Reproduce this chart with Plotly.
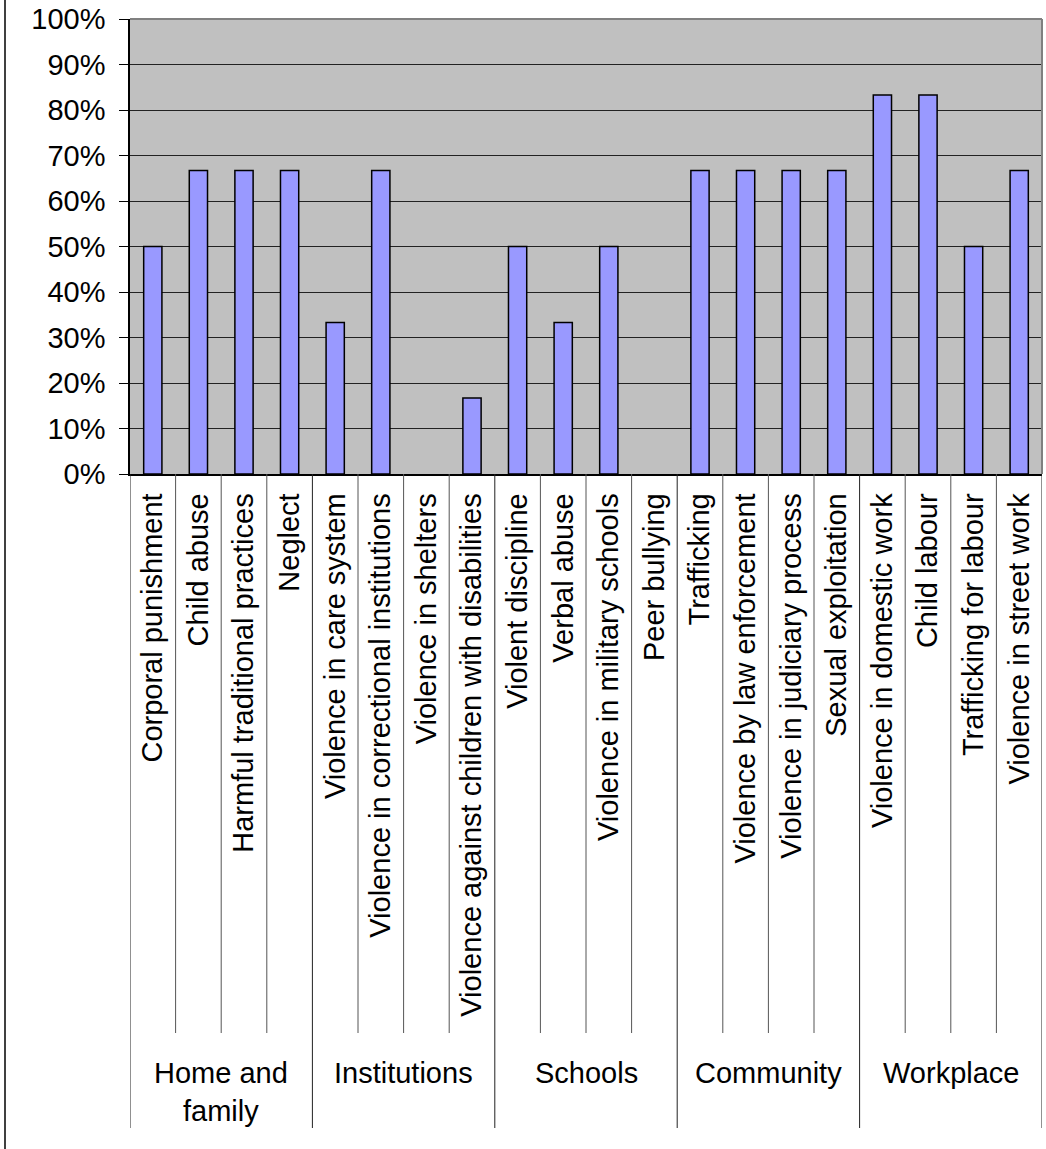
import plotly.graph_objects as go

# ---- data ----
groups = ["Home and<br>family", "Institutions", "Schools", "Community", "Workplace"]
categories = [
    "Corporal punishment", "Child abuse", "Harmful traditional practices", "Neglect",
    "Violence in care system", "Violence in correctional institutions", "Violence in shelters",
    "Violence against children with disabilities",
    "Violent discipline", "Verbal abuse", "Violence in military schools", "Peer bullying",
    "Trafficking", "Violence by law enforcement", "Violence in judiciary process", "Sexual exploitation",
    "Violence in domestic work", "Child labour", "Trafficking for labour", "Violence in street work",
]
values = [
    0.50, 0.667, 0.667, 0.667,
    0.333, 0.667, 0.0, 0.167,
    0.50, 0.333, 0.50, 0.0,
    0.667, 0.667, 0.667, 0.667,
    0.833, 0.833, 0.50, 0.667,
]
per_group = 4
y_ticks = [i / 10 for i in range(11)]

# ---- layout geometry (pixels) ----
W, H = 1046, 1149
L, R, T = 130, 4, 19
PLOT_BOTTOM = 474
B = H - PLOT_BOTTOM
PH = PLOT_BOTTOM - T
PW = W - L - R
FONT = "Liberation Sans, Arial, sans-serif"
FS = 29


def py(ypx):
    """pixel y -> paper y"""
    return (PLOT_BOTTOM - ypx) / PH


def px(xpx):
    return (xpx - L) / PW


fig = go.Figure()
fig.add_trace(go.Bar(
    x=list(range(len(categories))),
    y=values,
    marker=dict(color="#9999FF",
                line=dict(color="black", width=[1.5 if v > 0 else 0 for v in values])),
    hoverinfo="skip",
))

shapes = []
n = len(categories)
# category separators (tick marks of the category axis)
for i in range(n + 1):
    is_group = (i % per_group == 0)
    shapes.append(dict(
        type="line", xref="x", yref="paper",
        x0=i - 0.5, x1=i - 0.5, y0=0, y1=py(1128 if is_group else 1033),
        line=dict(color="#222" if is_group else "#555", width=1),
    ))
# top and right border of plot area (gray)
shapes.append(dict(type="line", xref="paper", yref="paper", x0=0, x1=1, y0=1, y1=1,
                   line=dict(color="#808080", width=2)))
shapes.append(dict(type="line", xref="paper", yref="paper", x0=1, x1=1, y0=0, y1=1,
                   line=dict(color="#808080", width=2)))
# chart area left border
shapes.append(dict(type="line", xref="paper", yref="paper", x0=px(5), x1=px(5),
                   y0=py(-5), y1=py(H + 5), line=dict(color="black", width=1.5)))

annotations = []
for g, name in enumerate(groups):
    annotations.append(dict(
        x=g * per_group + (per_group - 1) / 2, xref="x",
        y=py(1055), yref="paper", yanchor="top", xanchor="center",
        text=name, showarrow=False, align="center",
        font=dict(family=FONT, size=FS, color="black"),
    ))

fig.update_layout(
    width=W, height=H,
    margin=dict(l=L, r=R, t=T, b=B, pad=0),
    paper_bgcolor="white",
    plot_bgcolor="#C0C0C0",
    showlegend=False,
    bargap=0.6,
    font=dict(family=FONT, size=FS, color="black"),
    shapes=shapes,
    annotations=annotations,
    xaxis=dict(
        range=[-0.5, n - 0.5],
        tickmode="array",
        tickvals=list(range(n)),
        ticktext=categories,
        tickangle=-90,
        ticks="",
        ticklabelstandoff=6,
        showgrid=False,
        showline=True, linecolor="black", linewidth=1.5,
        zeroline=False,
        automargin=False,
        tickfont=dict(family=FONT, size=FS, color="black"),
    ),
    yaxis=dict(
        range=[0, 1],
        tickmode="array",
        tickvals=y_ticks,
        tickformat=".0%",
        ticks="outside", ticklen=9, tickcolor="black", tickwidth=1,
        ticklabelstandoff=8,
        showgrid=True, gridcolor="#222", gridwidth=1,
        showline=True, linecolor="black", linewidth=1.5,
        zeroline=False,
        automargin=False,
        tickfont=dict(family=FONT, size=FS, color="black"),
    ),
)

fig.write_html("out.html")
